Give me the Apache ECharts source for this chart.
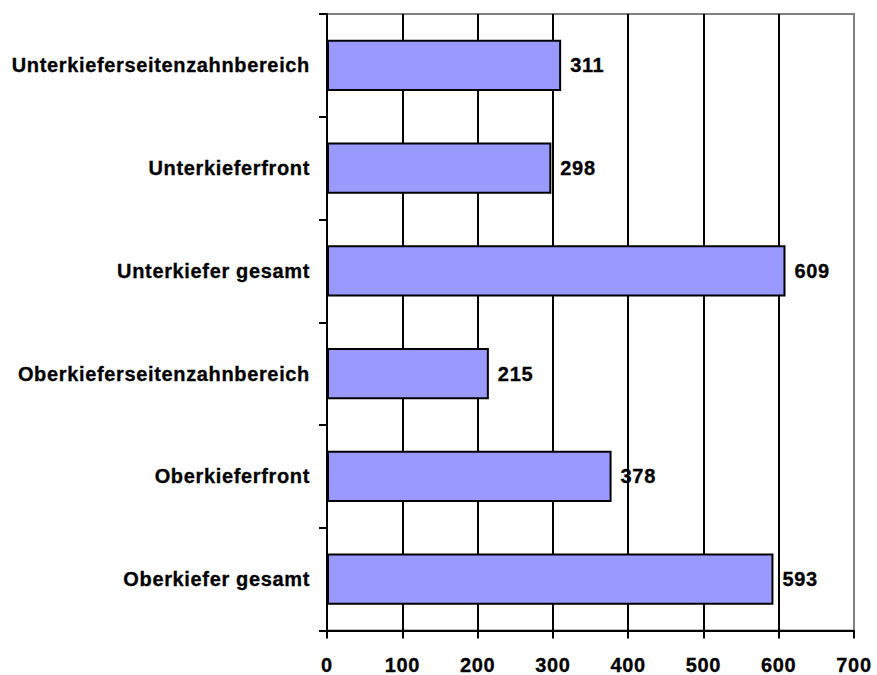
<!DOCTYPE html>
<html>
<head>
<meta charset="utf-8">
<script src="https://cdn.jsdelivr.net/npm/echarts@6/dist/echarts.min.js"></script>
<style>
  html, body { margin: 0; padding: 0; background: #fff; }
  #chart { width: 877px; height: 675px; }
  /* slightly wider spacing for the bold labels */
  #chart text { letter-spacing: 0.65px; }
</style>
</head>
<body>
<div id="chart"></div>
<script>
// Categories from bottom to top (category axis starts at the bottom)
const categories = [
  'Oberkiefer gesamt',
  'Oberkieferfront',
  'Oberkieferseitenzahnbereich',
  'Unterkiefer gesamt',
  'Unterkieferfront',
  'Unterkieferseitenzahnbereich'
];
const values = [593, 378, 215, 609, 298, 311];
const xTicks = [0, 100, 200, 300, 400, 500, 600, 700];

const font = 'Arial, "Liberation Sans", sans-serif';
const textStyle = {
  color: '#000', fontFamily: font, fontWeight: 'bold', fontSize: 20,
  textBorderColor: '#000', textBorderWidth: 0.3
};
const chart = echarts.init(document.getElementById('chart'), null, { renderer: 'svg' });

chart.setOption({
  animation: false,
  grid: {
    left: 327, right: 23, top: 14, bottom: 44.5,
    show: true, borderColor: '#808080', borderWidth: 2,
    containLabel: false
  },
  xAxis: {
    type: 'value',
    min: xTicks[0],
    max: xTicks[xTicks.length - 1],
    interval: 100,
    axisLine: { show: true, lineStyle: { color: '#000', width: 2 } },
    axisTick: { show: true, length: 8, lineStyle: { color: '#000', width: 2 } },
    axisLabel: Object.assign({ margin: 24 }, textStyle),
    splitLine: {
      show: true,
      lineStyle: {
        width: 2,
        color: xTicks.map((t, i) => i === xTicks.length - 1 ? '#808080' : '#000')
      }
    }
  },
  yAxis: {
    type: 'category',
    data: categories,
    axisLine: { show: true, lineStyle: { color: '#000', width: 2 } },
    axisTick: { show: true, length: 8, lineStyle: { color: '#000', width: 2 } },
    axisLabel: Object.assign({ margin: 17 }, textStyle),
    splitLine: { show: false }
  },
  series: [{
    type: 'bar',
    data: values,
    barWidth: '50%',
    itemStyle: { color: '#9999FF', borderColor: '#000', borderWidth: 2 },
    label: Object.assign({ show: true, position: 'right', distance: 9 }, textStyle)
  }]
});
</script>
</body>
</html>
